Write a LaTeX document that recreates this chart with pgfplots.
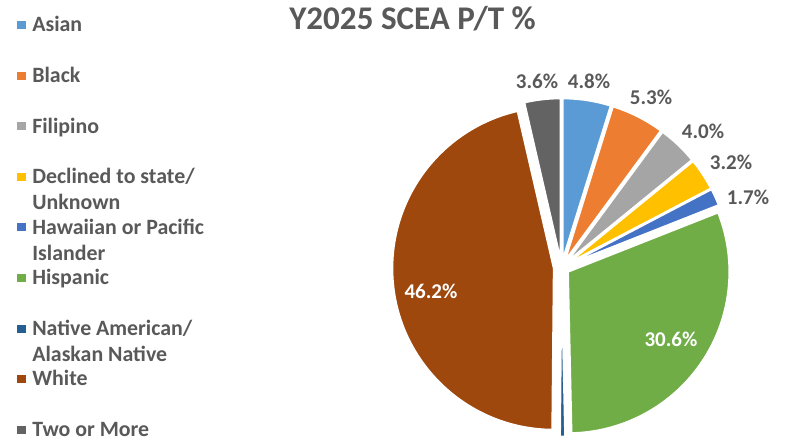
\documentclass[border=0pt]{standalone}
\usepackage{pgfplots}
\pgfplotsset{compat=1.18}
\usepackage{pgfplotstable}
\usepackage{fontspec}
\setmainfont{Carlito}
\definecolor{slice0}{HTML}{5B9BD5}
\definecolor{slice1}{HTML}{ED7D31}
\definecolor{slice2}{HTML}{A5A5A5}
\definecolor{slice3}{HTML}{FFC000}
\definecolor{slice4}{HTML}{4472C4}
\definecolor{slice5}{HTML}{70AD47}
\definecolor{slice6}{HTML}{255E91}
\definecolor{slice7}{HTML}{9E480E}
\definecolor{slice8}{HTML}{636363}
\definecolor{txt}{HTML}{595959}
\newcommand{\twolines}[2]{\vtop{\hbox{#1}\hbox{#2}}}

% value, label centre (pixels from left / top), label colour, shown
\pgfplotstableread{
v lx ly lc show
4.8 589 82 txt 1
5.3 651 98 txt 1
4.0 703 132 txt 1
3.2 731 163 txt 1
1.7 748 198 txt 1
30.6 671 340 white 1
0.5 0 0 txt 0
46.2 431 292 white 1
3.6 537 82 txt 1
}\piedata

\begin{document}
\begin{tikzpicture}
\begin{axis}[
  scale only axis, width=595.5pt, height=333pt,
  xmin=0, xmax=794, ymin=0, ymax=444,
  hide axis, clip=false,
  legend image code/.code={\fill[#1] (0pt,-4pt) rectangle (6.5pt,2pt);},
  legend cell align=left,
  legend style={at={(0.0214,0.964)}, anchor=north west, draw=none, fill=none,
    inner sep=0pt, outer sep=0pt, row sep=25.9pt, column sep=5pt,
    font=\bfseries\fontsize{16.4}{19.5}\selectfont, text=txt,
    nodes={inner sep=0pt, text height=12pt, text depth=0pt}},
]
\addlegendimage{fill=slice0, draw=none}\addlegendentry{Asian}
\addlegendimage{fill=slice1, draw=none}\addlegendentry{Black}
\addlegendimage{fill=slice2, draw=none}\addlegendentry{Filipino}
\addlegendimage{fill=slice3, draw=none}\addlegendentry{\twolines{Declined to state/}{Unknown}}
\addlegendimage{fill=slice4, draw=none}\addlegendentry{\twolines{Hawaiian or Pacific}{Islander}}
\addlegendimage{fill=slice5, draw=none}\addlegendentry{Hispanic}
\addlegendimage{fill=slice6, draw=none}\addlegendentry{\twolines{Native American/}{Alaskan Native}}
\addlegendimage{fill=slice7, draw=none}\addlegendentry{White}
\addlegendimage{fill=slice8, draw=none}\addlegendentry{Two or More}

\def\total{0}
\pgfplotsforeachungrouped \i in {0,...,8} {%
  \pgfplotstablegetelem{\i}{v}\of\piedata
  \pgfmathsetmacro\total{\total+\pgfplotsretval}%
}
\def\cum{0}
\pgfplotsforeachungrouped \i in {0,...,8} {%
  \pgfplotstablegetelem{\i}{v}\of\piedata \let\val\pgfplotsretval
  \pgfmathsetmacro\aS{90-360*(\cum/\total)}%
  \pgfmathsetmacro\cumnew{\cum+\val}%
  \pgfmathsetmacro\aE{90-360*(\cumnew/\total)}%
  \pgfmathsetmacro\aM{(\aS+\aE)/2}%
  \pgfmathsetmacro\vx{561.5+7.8*cos(\aM)}%
  \pgfmathsetmacro\vy{176.5+7.8*sin(\aM)}%
  \edef\temp{\noexpand\fill[fill=slice\i, draw=white, line width=1.35pt, line join=round]
    (axis cs:\vx,\vy) -- ++(\aS:121pt) arc[start angle=\aS, end angle=\aE, radius=121pt] -- cycle;}%
  \temp
  \let\cum\cumnew
  \pgfplotstablegetelem{\i}{show}\of\piedata \let\sh\pgfplotsretval
  \pgfplotstablegetelem{\i}{lx}\of\piedata \let\lx\pgfplotsretval
  \pgfplotstablegetelem{\i}{ly}\of\piedata
  \pgfmathsetmacro\ly{437.2-\pgfplotsretval}%
  \pgfplotstablegetelem{\i}{lc}\of\piedata \let\lc\pgfplotsretval
  \ifnum\sh=1
    \edef\temp{\noexpand\node[anchor=base, inner sep=0pt, text=\lc, font=\noexpand\bfseries\noexpand\fontsize{15.75}{18}\noexpand\selectfont]
      at (axis cs:\lx,\ly) {\val\noexpand\%};}%
    \temp
  \fi
}
\node[anchor=base, inner sep=0pt, text=txt, font=\bfseries\fontsize{24.8}{28}\selectfont]
  at (axis cs:412.5,414.5) {Y2025 SCEA P/T \%};
\end{axis}
\pgfresetboundingbox
\path[use as bounding box] (0,0) rectangle (595.5pt,333pt);
\end{tikzpicture}
\end{document}
